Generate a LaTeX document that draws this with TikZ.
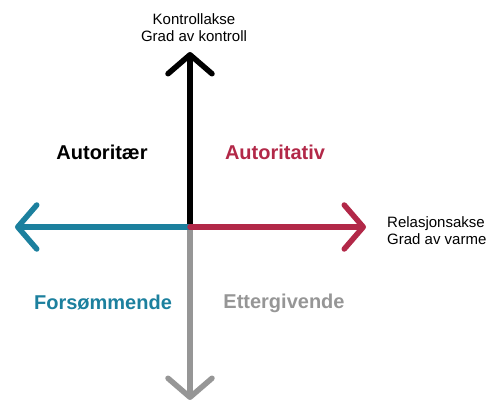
\documentclass[tikz,border=0pt]{standalone}
\usepackage{fontspec}
\setmainfont{Liberation Sans}
\usetikzlibrary{arrows.meta}

\definecolor{warmred}{RGB}{178,40,72}
\definecolor{coldblue}{RGB}{28,128,158}
\definecolor{softgray}{RGB}{150,150,150}

\tikzstyle{axis}=[line width=5.5pt,line cap=round,-{Straight Barb[round,length=19pt,width=44pt]}]
\tikzstyle{axistext}=[align=left,font=\fontsize{15pt}{17pt}\selectfont,inner sep=0pt]
\tikzstyle{quadrant}=[font=\fontsize{20pt}{24pt}\selectfont\bfseries,inner sep=0pt]

\begin{document}
\begin{tikzpicture}[x=1pt,y=-1pt,>=latex]
	\useasboundingbox (0,0) rectangle (498,399);
	\coordinate (origo) at (190,227);
	\coordinate (top) at (190,52);
	\coordinate (bottom) at (190,400);
	\coordinate (left) at (15,227);
	\coordinate (right) at (366,227);

	% Axes
	\draw[axis,softgray] (origo) -- (bottom);
	\draw[axis,black] (origo) -- (top);
	\draw[axis,coldblue] (origo) -- (left);
	\draw[axis,warmred] (origo) -- (right);

	% Axis texts
	\node[axistext,align=center] (kontroll) at (194,28) {Kontrollakse\\Grad av kontroll};
	\node[axistext,anchor=west] (varme) at (387,231) {Relasjonsakse\\Grad av varme};

	% Styles
	\node[quadrant] (autoritaer) at (102,152) {Autoritær};
	\node[quadrant,warmred] (autoritativ) at (275,152) {Autoritativ};
	\node[quadrant,coldblue] (forsommende) at (103,303) {Forsømmende};
	\node[quadrant,softgray] (ettergivende) at (284,303) {Ettergivende};
\end{tikzpicture}
\end{document}
